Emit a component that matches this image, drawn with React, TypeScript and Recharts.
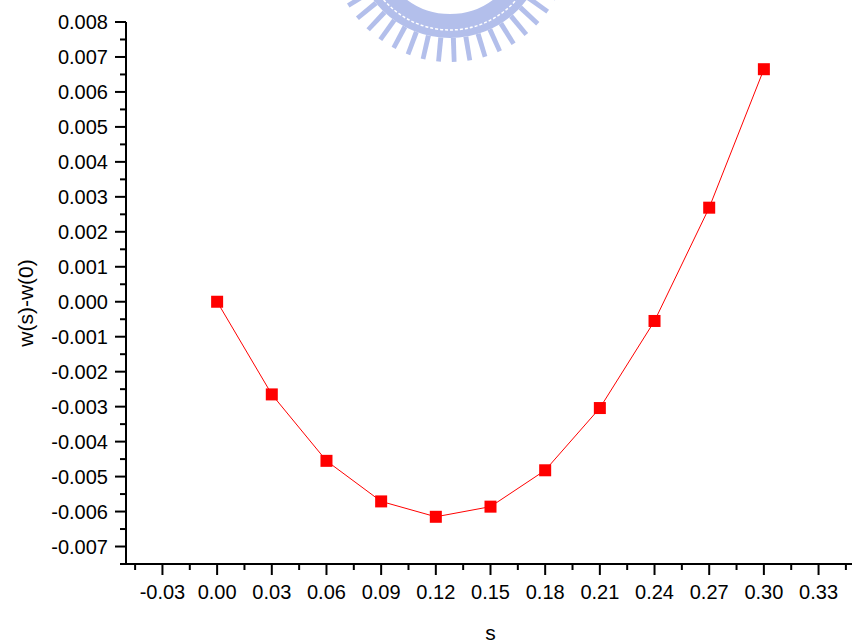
import React from "react";
import { LineChart, Line, XAxis, YAxis, Customized } from "recharts";

// s values and w(s)-w(0)
const sValues = [0, 0.03, 0.06, 0.09, 0.12, 0.15, 0.18, 0.21, 0.24, 0.27, 0.3];
const wDiff = [0, -0.00265, -0.00455, -0.00571, -0.00615, -0.00586, -0.00482, -0.00304, -0.00055, 0.00269, 0.00665];

const xMajor = [-0.03, 0, 0.03, 0.06, 0.09, 0.12, 0.15, 0.18, 0.21, 0.24, 0.27, 0.3, 0.33];
const xMinor = [-0.045, -0.015, 0.015, 0.045, 0.075, 0.105, 0.135, 0.165, 0.195, 0.225, 0.255, 0.285, 0.315, 0.345];
const yMajor = [-0.007, -0.006, -0.005, -0.004, -0.003, -0.002, -0.001, 0, 0.001, 0.002, 0.003, 0.004, 0.005, 0.006, 0.007, 0.008];
const yMinor = [-0.0075, -0.0065, -0.0055, -0.0045, -0.0035, -0.0025, -0.0015, -0.0005, 0.0005, 0.0015, 0.0025, 0.0035, 0.0045, 0.0055, 0.0065, 0.0075];

const data = sValues.map((s, i) => ({ s, w: wDiff[i] }));

const FONT = "'Liberation Sans', Arial, sans-serif";

const XTick = (props: any) => {
  const { x, y, payload } = props;
  const major = xMajor.includes(payload.value);
  return (
    <g>
      <line x1={x} x2={x} y1={y} y2={y + (major ? 11 : 6)} stroke="#000" strokeWidth={2} />
      {major && (
        <text x={x} y={y + 35} textAnchor="middle" fontSize={20} fontFamily={FONT} fill="#000">
          {payload.value.toFixed(2)}
        </text>
      )}
    </g>
  );
};

const YTick = (props: any) => {
  const { x, y, payload } = props;
  const major = yMajor.includes(payload.value);
  return (
    <g>
      <line x1={x} x2={x - (major ? 11 : 6)} y1={y} y2={y} stroke="#000" strokeWidth={2} />
      {major && (
        <text x={x - 18} y={y + 7} textAnchor="end" fontSize={20} fontFamily={FONT} fill="#000">
          {payload.value.toFixed(3)}
        </text>
      )}
    </g>
  );
};

const Square = (props: any) => {
  const { cx, cy } = props;
  if (cx == null || cy == null) return null;
  return <rect x={cx - 6} y={cy - 6} width={12} height={12} fill="#ff0000" />;
};

// faded seal watermark peeking in at the top
const Watermark = () => {
  const cx = 450;
  const cy = -58;
  const teeth = [];
  for (let a = 28; a <= 152; a += 7.5) {
    const r = (a * Math.PI) / 180;
    const w = 0.026;
    const p = [
      [Math.cos(r - w) * 96, Math.sin(r - w) * 96],
      [Math.cos(r - w * 0.75) * 120, Math.sin(r - w * 0.75) * 120],
      [Math.cos(r + w * 0.75) * 120, Math.sin(r + w * 0.75) * 120],
      [Math.cos(r + w) * 96, Math.sin(r + w) * 96],
    ];
    teeth.push(
      <path
        key={a}
        d={`M${cx + p[0][0]},${cy + p[0][1]} L${cx + p[1][0]},${cy + p[1][1]} L${cx + p[2][0]},${cy + p[2][1]} L${cx + p[3][0]},${cy + p[3][1]} Z`}
        fill="#a6b4e8"
      />
    );
  }
  return (
    <g opacity={0.85}>
      <circle cx={cx} cy={cy} r={84} fill="none" stroke="#a6b4e8" strokeWidth={24} />
      <circle cx={cx} cy={cy} r={88} fill="none" stroke="#ffffff" strokeWidth={1.5} strokeDasharray="3 2" />
      {teeth}
    </g>
  );
};

const YTitle = (props: any) => {
  const vb = props.viewBox || {};
  const x = (vb.x ?? 56) - 23;
  const y = (vb.y ?? 22) + (vb.height ?? 542) / 2 + 10;
  return (
    <text
      x={x}
      y={y}
      transform={`rotate(-90 ${x} ${y})`}
      textAnchor="middle"
      fontSize={21}
      fontFamily={FONT}
      fill="#000"
    >
      w(s)-w(0)
    </text>
  );
};

export default function App() {
  return (
    <div style={{ position: "fixed", left: 0, top: 0, width: 852, height: 640, overflow: "hidden", background: "#fff" }}>
      <LineChart width={860} height={640} data={data} margin={{ top: 22, right: 5, bottom: 0, left: 56 }}>
        <Customized component={Watermark} />
        <XAxis
          dataKey="s"
          type="number"
          domain={[-0.05, 0.35]}
          ticks={[...xMajor, ...xMinor]}
          interval={0}
          allowDataOverflow
          height={76}
          tickSize={0}
          tickMargin={0}
          tickLine={false}
          tick={<XTick />}
          axisLine={{ stroke: "#000", strokeWidth: 2 }}
          label={{ value: "s", position: "insideBottom", offset: 0, fontSize: 21, fontFamily: FONT, fill: "#000" }}
        />
        <YAxis
          type="number"
          domain={[-0.0075, 0.008]}
          ticks={[...yMajor, ...yMinor]}
          interval={0}
          allowDataOverflow
          width={70}
          tickSize={0}
          tickMargin={0}
          tickLine={false}
          tick={<YTick />}
          axisLine={{ stroke: "#000", strokeWidth: 2 }}
          label={{ content: <YTitle /> }}
        />
        <Line
          dataKey="w"
          type="linear"
          stroke="#ff0000"
          strokeWidth={1}
          dot={<Square />}
          activeDot={false}
          isAnimationActive={false}
        />
      </LineChart>
    </div>
  );
}
